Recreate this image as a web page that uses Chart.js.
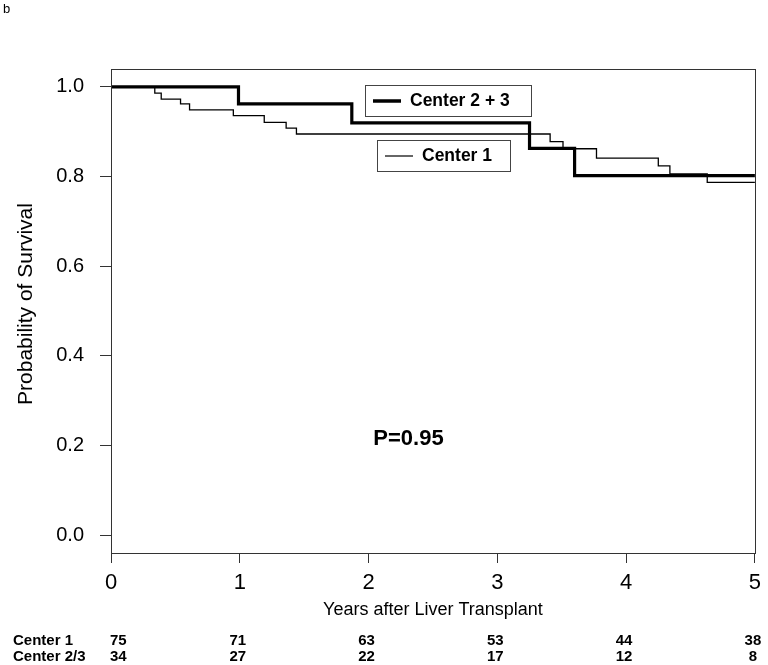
<!DOCTYPE html>
<html>
<head>
<meta charset="utf-8">
<script src="https://cdn.jsdelivr.net/npm/chart.js@4.4.1/dist/chart.umd.min.js"></script>
<style>
  html, body { margin: 0; padding: 0; background: #fff; }
  canvas { display: block; }
</style>
</head>
<body>
<canvas id="c" width="768" height="665"></canvas>
<script>
// ---- data ----
const center1Times = [0, 0.34, 0.39, 0.54, 0.61, 0.95, 1.19, 1.36, 1.44, 3.41, 3.51, 3.77, 4.25, 4.34, 4.63, 5];
const center1Surv  = [1, 0.986, 0.973, 0.962, 0.949, 0.936, 0.921, 0.908, 0.895, 0.878, 0.862, 0.841, 0.824, 0.806, 0.787, 0.787];
const center23Times = [0, 0.99, 1.87, 3.25, 3.60, 5];
const center23Surv  = [1, 0.962, 0.920, 0.863, 0.802, 0.802];
const yTickValues = [0, 0.2, 0.4, 0.6, 0.8, 1.0];
const xTickValues = [0, 1, 2, 3, 4, 5];
const riskTimes = [0, 1, 2, 3, 4, 5];
const riskCenter1 = [75, 71, 63, 53, 44, 38];
const riskCenter23 = [34, 27, 22, 17, 12, 8];
const riskRowLabels = ['Center 1', 'Center 2/3'];
const legendLabels = ['Center 2 + 3', 'Center 1'];
const pValueText = 'P=0.95';
const xTitle = 'Years after Liver Transplant';
const yTitle = 'Probability of Survival';
const panelLabel = 'b';

const toPoints = (xs, ys) => xs.map((x, i) => ({ x: x, y: ys[i] }));
const FONT = '"Liberation Sans", Arial, Helvetica, sans-serif';

const extras = {
  id: 'extras',
  afterDraw(chart) {
    const ctx = chart.ctx;
    const a = chart.chartArea;
    const xs = chart.scales.x, ys = chart.scales.y;
    ctx.save();
    // full box
    ctx.strokeStyle = '#333';
    ctx.lineWidth = 1;
    ctx.strokeRect(Math.round(a.left) + 0.5, Math.round(a.top) + 0.5,
                   Math.round(a.right - a.left), Math.round(a.bottom - a.top));
    // panel label
    ctx.fillStyle = '#000';
    ctx.font = '13px ' + FONT;
    ctx.textAlign = 'left';
    ctx.textBaseline = 'middle';
    ctx.fillText(panelLabel, 3, 9);
    // y title
    ctx.save();
    ctx.translate(26, 304);
    ctx.rotate(-Math.PI / 2);
    ctx.font = '21px ' + FONT;
    ctx.textAlign = 'center';
    ctx.textBaseline = 'middle';
    ctx.fillText(yTitle, 0, 0);
    ctx.restore();
    // x title
    ctx.font = '18px ' + FONT;
    ctx.textAlign = 'center';
    ctx.textBaseline = 'middle';
    ctx.fillText(xTitle, (a.left + a.right) / 2, 610);
    // p value
    ctx.font = 'bold 22px ' + FONT;
    ctx.fillText(pValueText, xs.getPixelForValue(2.31), ys.getPixelForValue(0.215));
    // legends
    const drawLegend = (x0, y0, w, h, lw, label) => {
      ctx.fillStyle = '#fff';
      ctx.fillRect(x0, y0, w, h);
      ctx.strokeStyle = '#444';
      ctx.lineWidth = 1;
      ctx.strokeRect(x0 + 0.5, y0 + 0.5, w, h);
      ctx.strokeStyle = '#000';
      ctx.lineWidth = lw;
      ctx.beginPath();
      ctx.moveTo(x0 + 8, y0 + h / 2 + 0.5);
      ctx.lineTo(x0 + 36, y0 + h / 2 + 0.5);
      ctx.stroke();
      ctx.fillStyle = '#000';
      ctx.font = 'bold 17.5px ' + FONT;
      ctx.textAlign = 'left';
      ctx.textBaseline = 'middle';
      ctx.fillText(label, x0 + 45, y0 + h / 2 + 1);
    };
    drawLegend(365, 85, 166, 31, 3.5, legendLabels[0]);
    drawLegend(377, 140, 133, 31, 1.2, legendLabels[1]);
    // risk table
    ctx.font = 'bold 15px ' + FONT;
    ctx.fillStyle = '#000';
    ctx.textBaseline = 'middle';
    const rows = [riskCenter1, riskCenter23];
    const rowY = [641, 657];
    rows.forEach((vals, r) => {
      ctx.textAlign = 'left';
      ctx.fillText(riskRowLabels[r], 13, rowY[r]);
      vals.forEach((v, i) => {
        const px = xs.getPixelForValue(riskTimes[i]);
        if (i === 0) { ctx.textAlign = 'left'; ctx.fillText(String(v), px - 1, rowY[r]); }
        else { ctx.textAlign = 'center'; ctx.fillText(String(v), px - 2, rowY[r]); }
      });
    });
    ctx.restore();
  }
};

new Chart(document.getElementById('c'), {
  type: 'scatter',
  data: {
    datasets: [
      { label: legendLabels[1], data: toPoints(center1Times, center1Surv), showLine: true, stepped: true,
        borderColor: '#000', borderWidth: 1.3, pointRadius: 0, fill: false },
      { label: legendLabels[0], data: toPoints(center23Times, center23Surv), showLine: true, stepped: true,
        borderColor: '#000', borderWidth: 3.2, pointRadius: 0, fill: false }
    ]
  },
  options: {
    responsive: false,
    animation: false,
    devicePixelRatio: 1,
    layout: { padding: { left: 0, right: 11, top: 69, bottom: 0 } },
    plugins: { legend: { display: false }, tooltip: { enabled: false } },
    scales: {
      x: {
        type: 'linear', min: 0, max: 5,
        afterBuildTicks(s) { s.ticks = xTickValues.map(v => ({ value: v })); },
        ticks: { color: '#000', font: { size: 22, family: FONT }, padding: 7, maxRotation: 0,
                 callback: v => String(v) },
        grid: { display: true, drawOnChartArea: false, drawTicks: true, tickLength: 10, color: '#333', lineWidth: 1 },
        border: { display: true, color: '#333', width: 1 },
        afterFit(s) { s.height = 112; }
      },
      y: {
        type: 'linear', min: -0.04, max: 1.04,
        afterBuildTicks(s) { s.ticks = yTickValues.map(v => ({ value: v })); },
        ticks: { color: '#000', font: { size: 20, family: FONT }, padding: 16,
                 callback: v => Number(v).toFixed(1) },
        grid: { display: true, drawOnChartArea: false, drawTicks: true, tickLength: 11, color: '#333', lineWidth: 1 },
        border: { display: true, color: '#333', width: 1 },
        afterFit(s) { s.width = 111; }
      }
    }
  },
  plugins: [extras]
});
</script>
</body>
</html>
